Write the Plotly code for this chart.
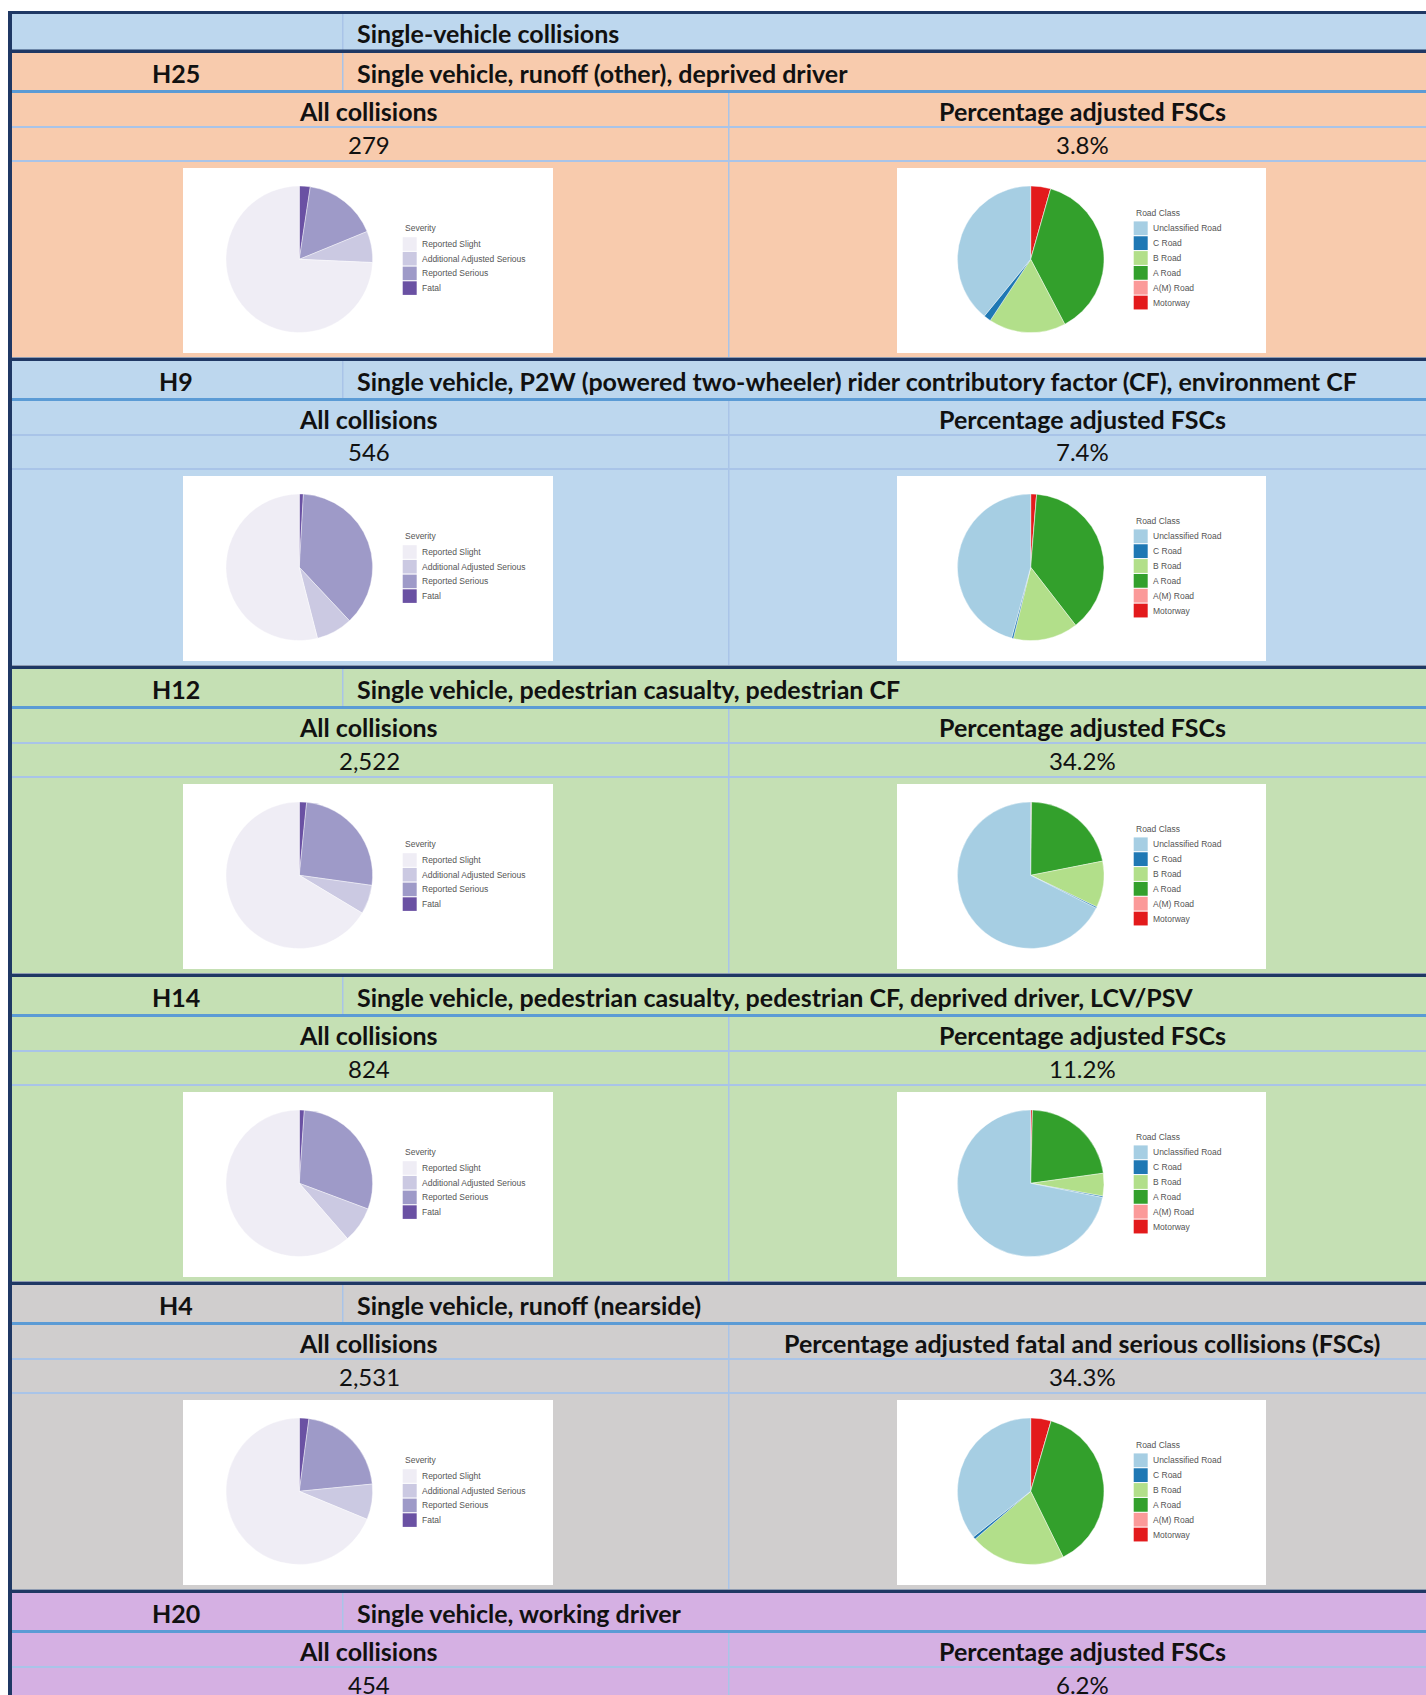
import plotly.graph_objects as go

W, H = 1426, 1695

# ---------------- data ----------------
section_ids = ["H25", "H9", "H12", "H14", "H4", "H20"]
section_titles = [
    "Single vehicle, runoff (other), deprived driver",
    "Single vehicle, P2W (powered two-wheeler) rider contributory factor (CF), environment CF",
    "Single vehicle, pedestrian casualty, pedestrian CF",
    "Single vehicle, pedestrian casualty, pedestrian CF, deprived driver, LCV/PSV",
    "Single vehicle, runoff (nearside)",
    "Single vehicle, working driver",
]
section_colors = ["#F8CBAD", "#BDD7EE", "#C5E0B4", "#C5E0B4", "#D0CECE", "#D5B0E3"]
left_headers = ["All collisions"] * 6
right_headers = [
    "Percentage adjusted FSCs",
    "Percentage adjusted FSCs",
    "Percentage adjusted FSCs",
    "Percentage adjusted FSCs",
    "Percentage adjusted fatal and serious collisions (FSCs)",
    "Percentage adjusted FSCs",
]
all_collisions = ["279", "546", "2,522", "824", "2,531", "454"]
pct_adjusted_fscs = ["3.8%", "7.4%", "34.2%", "11.2%", "34.3%", "6.2%"]
table_title = "Single-vehicle collisions"

severity_title = "Severity"
severity_labels = ["Reported Slight", "Additional Adjusted Serious", "Reported Serious", "Fatal"]
severity_colors = ["#EFEDF5", "#CBC9E2", "#9E9AC8", "#6A51A3"]
severity_H25 = [74.3, 6.9, 16.4, 2.4]
severity_H9 = [54.0, 8.0, 37.1, 0.9]
severity_H12 = [66.4, 6.4, 25.6, 1.6]
severity_H14 = [61.4, 7.9, 29.6, 1.1]
severity_H4 = [68.7, 7.8, 21.3, 2.1]

road_title = "Road Class"
road_labels = ["Unclassified Road", "C Road", "B Road", "A Road", "A(M) Road", "Motorway"]
road_colors = ["#A6CEE3", "#1F78B4", "#B2DF8A", "#33A02C", "#FB9A99", "#E31A1C"]
road_H25 = [39.1, 1.6, 17.0, 37.9, 0.0, 4.4]
road_H9 = [45.8, 0.4, 14.3, 38.2, 0.0, 1.3]
road_H12 = [67.6, 0.3, 10.2, 21.7, 0.0, 0.2]
road_H14 = [71.9, 0.3, 5.0, 22.4, 0.0, 0.4]
road_H4 = [35.7, 0.6, 21.0, 38.2, 0.0, 4.5]

severity_sets = [severity_H25, severity_H9, severity_H12, severity_H14, severity_H4]
road_sets = [road_H25, road_H9, road_H12, road_H14, road_H4]

# ---------------- layout helpers ----------------
NAVY = "#1F3864"
MIDBLUE = "#5B9BD5"
LIGHTLINE = "#A9C4E8"
TITLE_BG = "#BDD7EE"
FONT = "Lato"
TXT = "#111111"
LEG_FONT = "Liberation Sans"
LEG_COL = "#555555"

shapes = []
annotations = []


def px(x):
    return x / W


def py(y):
    return 1 - y / H


def rect(x0, y0, x1, y1, color, layer="below"):
    shapes.append(dict(type="rect", xref="paper", yref="paper",
                       x0=px(x0), x1=px(x1), y0=py(y1), y1=py(y0),
                       fillcolor=color, line=dict(width=0), layer=layer))


def text(x, y, s, size=25, bold=True, anchor="center", color=TXT, family=FONT):
    annotations.append(dict(xref="paper", yref="paper", x=px(x), y=py(y),
                            text=("<b>%s</b>" % s) if bold else s,
                            showarrow=False, xanchor=anchor, yanchor="middle",
                            font=dict(family=family, size=size, color=color)))


XL = 8          # left border start
XB = 12         # left border end
XDIV1 = 342     # divider in header rows
XDIV2 = 728     # divider in data rows
XR = 1440       # right (beyond page)
PERIOD = 308
S0 = 53

# top border and title row
rect(XL, 11, XR, 14, NAVY)
rect(XB, 14, XR, 50, TITLE_BG)
rect(XDIV1, 14, XDIV1 + 1.5, 50, LIGHTLINE)
text(355, 33, table_title, anchor="left")

fig = go.Figure()

for i, sid in enumerate(section_ids):
    S = S0 + i * PERIOD
    col = section_colors[i]
    rect(XL, S - 3.5, XR, S, NAVY)
    rect(XB, S, XR, S + 304, col)
    rect(XDIV1, S, XDIV1 + 1.5, S + 37, LIGHTLINE)
    rect(XB, S + 37, XR, S + 40, MIDBLUE)
    rect(XB, S + 73, XR, S + 75, LIGHTLINE)
    rect(XB, S + 107, XR, S + 109, LIGHTLINE)
    rect(XDIV2, S + 40, XDIV2 + 1.5, S + 304, LIGHTLINE)

    text(176, S + 20, sid)
    text(355, S + 20, section_titles[i], anchor="left")
    text(368, S + 58, left_headers[i])
    text(1082, S + 58, right_headers[i])
    text(369, S + 91, all_collisions[i], size=24, bold=False)
    text(1082, S + 91, pct_adjusted_fscs[i], size=24, bold=False)

    if i < len(severity_sets):
        rect(183, S + 115, 553, S + 300, "white")
        rect(897, S + 115, 1266, S + 300, "white")
        cy = S + 206.3
        r = 73.3
        for cx, vals, labels, colors in [
            (299.3, severity_sets[i], severity_labels, severity_colors),
            (1030.7, road_sets[i], road_labels, road_colors),
        ]:
            # slices run counter-clockwise from 12 o'clock in legend order,
            # i.e. clockwise from 12 o'clock in reversed order
            fig.add_trace(go.Pie(
                values=vals[::-1], labels=labels[::-1], sort=False,
                direction="clockwise", rotation=0,
                marker=dict(colors=colors[::-1], line=dict(color="white", width=0.4)),
                textinfo="none", hoverinfo="label+value", showlegend=False,
                domain=dict(x=[px(cx - r), px(cx + r)], y=[py(cy + r), py(cy - r)]),
            ))
        # legends
        lx = 402.7
        text(lx, S + 174.7, severity_title, size=8.5, bold=False, anchor="left",
             color=LEG_COL, family=LEG_FONT)
        for k, lab in enumerate(severity_labels):
            yc = S + 191 + k * 14.7
            rect(lx, yc - 6.8, lx + 14, yc + 6.8, severity_colors[k], layer="above")
            text(lx + 17.5, yc, lab, size=8.5, bold=False, anchor="left",
                 color=LEG_COL, family=LEG_FONT)
        rx = 1133.7
        text(rx, S + 160.3, road_title, size=8.5, bold=False, anchor="left",
             color=LEG_COL, family=LEG_FONT)
        for k, lab in enumerate(road_labels):
            yc = S + 175.3 + k * 14.85
            rect(rx, yc - 6.9, rx + 14, yc + 6.9, road_colors[k], layer="above")
            text(rx + 17.5, yc, lab, size=8.5, bold=False, anchor="left",
                 color=LEG_COL, family=LEG_FONT)

rect(XL, 11, XB, H + 5, NAVY)

fig.update_layout(
    width=W, height=H,
    margin=dict(l=0, r=0, t=0, b=0),
    paper_bgcolor="white", plot_bgcolor="white",
    shapes=shapes, annotations=annotations,
    showlegend=False,
)

fig.write_html("out.html")
